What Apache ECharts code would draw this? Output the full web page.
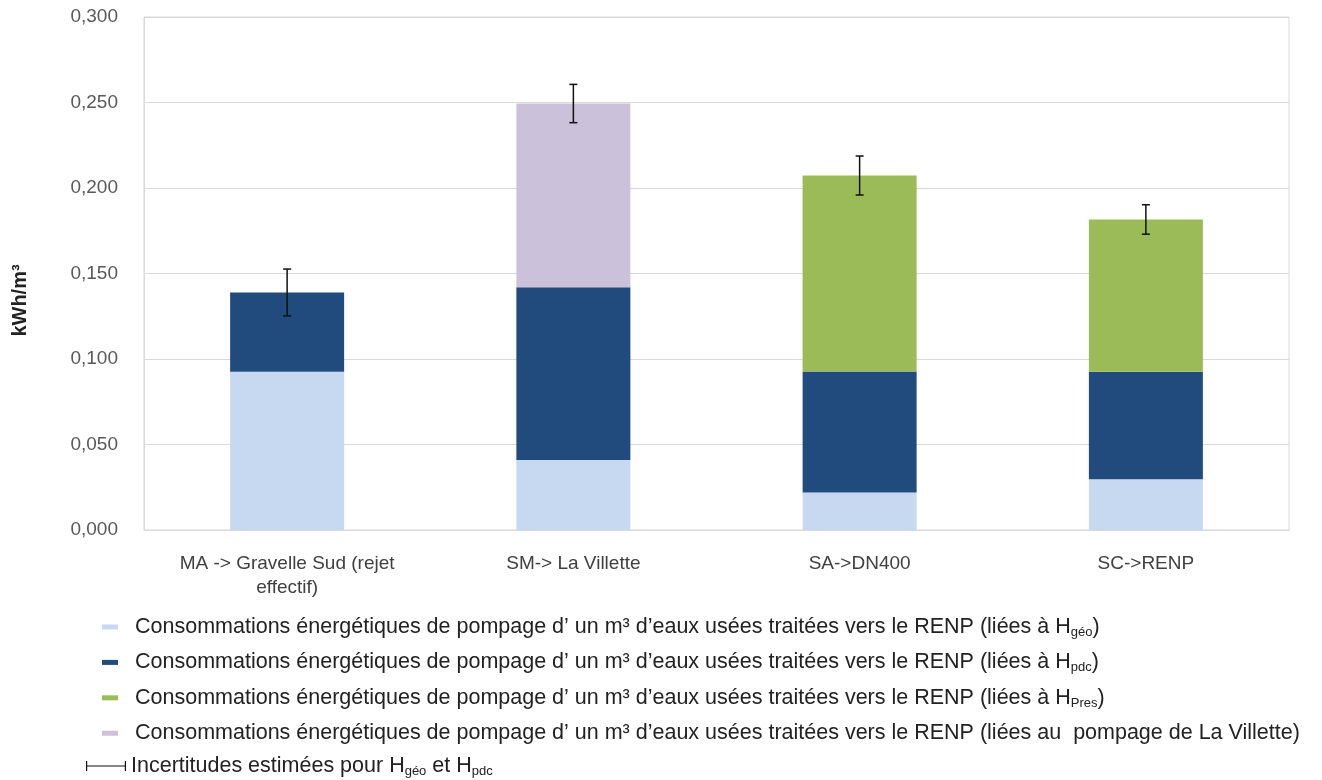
<!DOCTYPE html>
<html>
<head>
<meta charset="utf-8">
<script src="https://cdn.jsdelivr.net/npm/echarts@6/dist/echarts.min.js"></script>
<style>
  html, body { margin: 0; padding: 0; background: #fff; }
  #chart { width: 1322px; height: 780px; }
</style>
</head>
<body>
<div id="chart"></div>
<script>
// categories (x axis)
const categories = [
  "MA -> Gravelle Sud (rejet\neffectif)",
  "SM-> La Villette",
  "SA->DN400",
  "SC->RENP",
];
// stacked components, kWh/m3
const geoValues = [0.0925, 0.041, 0.022, 0.0297];
const pdcValues = [0.0464, 0.101, 0.0707, 0.0629];
const presValues = [null, null, 0.1146, 0.089];
const villetteValues = [null, 0.1074, null, null];
// estimated uncertainty (+/-) around bar totals
const errValues = [0.0137, 0.0112, 0.0114, 0.0086];

const base = "Consommations énergétiques de pompage d’ un m³ d’eaux usées traitées vers le RENP ";
const names = {
  geo: base + "(liées à H{sub|géo})",
  pdc: base + "(liées à H{sub|pdc})",
  pres: base + "(liées à H{sub|Pres})",
  vil: base + "(liées au  pompage de La Villette)",
  err: "Incertitudes estimées pour H{sub|géo} et H{sub|pdc}",
};

const totals = categories.map((c, i) =>
  [geoValues, pdcValues, presValues, villetteValues].reduce((s, arr) => s + (arr[i] || 0), 0)
);
const errData = categories.map((c, i) => [i, totals[i], errValues[i]]);

const font = "'Liberation Sans', Arial, sans-serif";
const chart = echarts.init(document.getElementById("chart"));

const legendText = {
  fontFamily: font,
  fontSize: 21.5,
  color: "#222",
  lineHeight: 22,
  rich: {
    sub: { fontFamily: font, fontSize: 13, color: "#222", padding: [11, 0, 0, 0] },
  },
};

const errIcon = "path://M0,0h1.2v10h-1.2z M0,4.5h40v1h-40z M38.8,0h1.2v10h-1.2z";

const option = {
  animation: false,
  backgroundColor: "#fff",
  grid: {
    left: 144,
    right: 33,
    top: 17,
    bottom: 250,
    show: true,
    borderColor: "#d9d9d9",
    borderWidth: 1,
  },
  xAxis: {
    type: "category",
    data: categories,
    axisTick: { show: false },
    axisLine: { lineStyle: { color: "#d9d9d9" } },
    axisLabel: {
      fontFamily: font,
      fontSize: 19,
      color: "#404040",
      margin: 22,
      lineHeight: 24,
    },
  },
  yAxis: {
    type: "value",
    min: 0,
    max: 0.3,
    interval: 0.05,
    name: "kWh/m³",
    nameLocation: "middle",
    nameRotate: 90,
    nameGap: 114,
    nameTextStyle: {
      fontFamily: font,
      fontSize: 20,
      fontWeight: "bold",
      color: "#222",
      padding: [0, 54, 0, 0],
    },
    axisLine: { show: true, lineStyle: { color: "#d9d9d9" } },
    axisTick: { show: false },
    splitLine: { lineStyle: { color: "#d9d9d9" } },
    axisLabel: {
      fontFamily: font,
      fontSize: 19,
      color: "#595959",
      margin: 26,
      formatter: (v) => v.toFixed(3).replace(".", ","),
    },
  },
  legend: [
    {
      orient: "vertical",
      left: 97,
      top: 611,
      itemWidth: 16,
      itemHeight: 5,
      itemGap: 12.4,
      icon: "rect",
      data: [names.geo, names.pdc, names.pres, names.vil],
      textStyle: Object.assign({ padding: [0, 0, 0, 12] }, legendText),
    },
    {
      orient: "vertical",
      left: 81,
      top: 750,
      itemWidth: 40,
      itemHeight: 10,
      data: [{ name: names.err, icon: errIcon }],
      textStyle: legendText,
    },
  ],
  series: [
    {
      name: names.geo,
      type: "bar",
      stack: "total",
      barWidth: 114,
      data: geoValues,
      itemStyle: { color: "#c6d9f0" },
    },
    {
      name: names.pdc,
      type: "bar",
      stack: "total",
      data: pdcValues,
      itemStyle: { color: "#214a7d" },
    },
    {
      name: names.pres,
      type: "bar",
      stack: "total",
      data: presValues,
      itemStyle: { color: "#9bbb59" },
    },
    {
      name: names.vil,
      type: "bar",
      stack: "total",
      data: villetteValues,
      itemStyle: { color: "#ccc1da" },
    },
    {
      name: names.err,
      type: "custom",
      itemStyle: { color: "#111" },
      data: errData,
      z: 10,
      renderItem: (params, api) => {
        const i = api.value(0);
        const c = api.value(1);
        const e = api.value(2);
        const top = api.coord([i, c + e]);
        const bot = api.coord([i, c - e]);
        const hw = 4;
        const style = { stroke: "#111", lineWidth: 1.5 };
        return {
          type: "group",
          children: [
            { type: "line", shape: { x1: top[0], y1: top[1], x2: bot[0], y2: bot[1] }, style },
            { type: "line", shape: { x1: top[0] - hw, y1: top[1], x2: top[0] + hw, y2: top[1] }, style },
            { type: "line", shape: { x1: bot[0] - hw, y1: bot[1], x2: bot[0] + hw, y2: bot[1] }, style },
          ],
        };
      },
    },
  ],
};

chart.setOption(option);
</script>
</body>
</html>
